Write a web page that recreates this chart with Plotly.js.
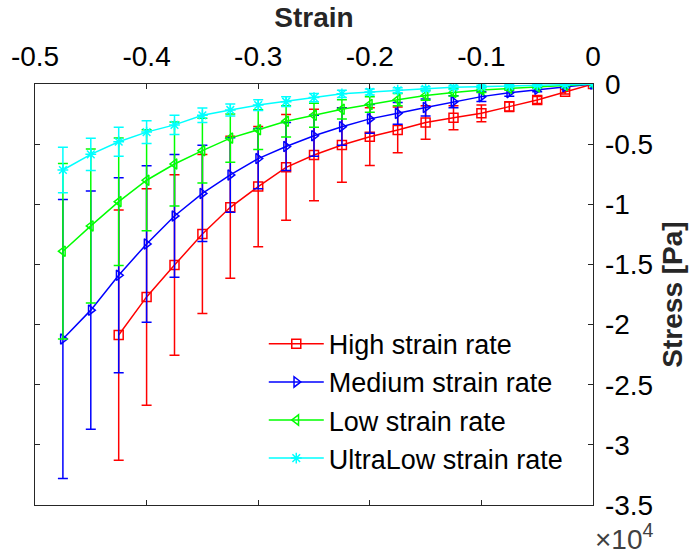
<!DOCTYPE html>
<html>
<head>
<meta charset="utf-8">
<script src="https://cdn.plot.ly/plotly-3.0.1.min.js"></script>
<style>html,body{margin:0;padding:0;background:#fff}#chart{width:693px;height:555px}</style>
</head>
<body>
<div id="chart"></div>
<script>
// Strain values (shared x positions)
const strain = [0, -0.025, -0.05, -0.075, -0.1, -0.125, -0.15, -0.175, -0.2, -0.225,
                -0.25, -0.275, -0.3, -0.325, -0.35, -0.375, -0.4, -0.425, -0.45, -0.475];

// Stress values, in units of 1e4 Pa
const highStress = [0, -0.064, -0.133, -0.188, -0.244, -0.28, -0.32, -0.382, -0.438, -0.507,
                    -0.59, -0.693, -0.853, -1.025, -1.247, -1.505, -1.77, -2.087];
const highErr    = [0, 0.02, 0.03, 0.04, 0.07, 0.1, 0.14, 0.19, 0.24, 0.31,
                    0.38, 0.44, 0.5, 0.59, 0.66, 0.75, 0.9, 1.04];

const mediumStress = [0, -0.022, -0.044, -0.072, -0.105, -0.147, -0.195, -0.244, -0.29, -0.355,
                      -0.43, -0.52, -0.62, -0.756, -0.91, -1.097, -1.33, -1.59, -1.88, -2.12];
const mediumErr    = [0, 0.01, 0.02, 0.03, 0.04, 0.05, 0.07, 0.09, 0.12, 0.155,
                      0.17, 0.2, 0.25, 0.31, 0.4, 0.51, 0.65, 0.81, 0.99, 1.16];

const lowStress = [0, -0.012, -0.025, -0.036, -0.05, -0.07, -0.095, -0.13, -0.17, -0.21,
                   -0.26, -0.31, -0.38, -0.45, -0.554, -0.665, -0.8, -0.978, -1.18, -1.39];
const lowErr    = [0, 0.005, 0.01, 0.015, 0.02, 0.03, 0.04, 0.05, 0.065, 0.08,
                   0.1, 0.13, 0.165, 0.2, 0.27, 0.35, 0.42, 0.53, 0.64, 0.73];

const ultraStress = [0, -0.005, -0.01, -0.015, -0.022, -0.028, -0.04, -0.052, -0.066, -0.082,
                     -0.113, -0.147, -0.175, -0.216, -0.26, -0.34, -0.4, -0.48, -0.585, -0.715];
const ultraErr    = [0, 0.005, 0.008, 0.01, 0.012, 0.015, 0.018, 0.02, 0.025, 0.03,
                     0.035, 0.04, 0.045, 0.05, 0.06, 0.08, 0.095, 0.12, 0.135, 0.19];

const seriesNames = ["High strain rate", "Medium strain rate", "Low strain rate", "UltraLow strain rate"];
const xTickVals = [-0.5, -0.4, -0.3, -0.2, -0.1, 0];
const xTickText = ["-0.5", "-0.4", "-0.3", "-0.2", "-0.1", "0"];
const yTickVals = [0, -0.5, -1, -1.5, -2, -2.5, -3, -3.5];
const yTickText = ["0", "-0.5", "-1", "-1.5", "-2", "-2.5", "-3", "-3.5"];

function mk(name, y, err, color, symbol) {
  return {
    type: "scatter", mode: "lines+markers", name: name,
    x: strain.slice(0, y.length), y: y,
    line: {color: color, width: 1.5},
    marker: {symbol: symbol, size: 9, color: color, line: {color: color, width: 1.5}},
    error_y: {type: "data", array: err, visible: true, color: color, thickness: 1.5, width: 5}
  };
}

const data = [
  mk(seriesNames[0], highStress, highErr, "#ff0000", "square-open"),
  mk(seriesNames[1], mediumStress, mediumErr, "#0000ff", "triangle-right-open"),
  mk(seriesNames[2], lowStress, lowErr, "#00ff00", "triangle-left-open"),
  mk(seriesNames[3], ultraStress, ultraErr, "#00ffff", "asterisk-open")
];

const axisColor = "#262626";
const FS = 28;
const layout = {
  width: 693, height: 555,
  margin: {l: 35, r: 100, t: 84, b: 50},
  paper_bgcolor: "#ffffff", plot_bgcolor: "#ffffff",
  font: {family: "Liberation Sans, Arial, sans-serif", size: FS, color: axisColor},
  showlegend: true,
  legend: {
    x: 0.41, y: 0.44, xanchor: "left", yanchor: "top",
    bgcolor: "rgba(255,255,255,0)", borderwidth: 0, itemwidth: 55,
    font: {size: 27, color: "#000000"}, tracegroupgap: 0
  },
  xaxis: {
    side: "top", range: [-0.5, 0], autorange: false,
    tickvals: xTickVals, ticktext: xTickText,
    ticks: "inside", ticklen: 5, tickcolor: axisColor,
    showline: true, linecolor: axisColor, linewidth: 1.3, mirror: "ticks",
    showgrid: false, zeroline: false, ticklabelstandoff: 6,
    tickfont: {size: FS, color: "#000000"},
    title: {text: "<b>Strain</b>", font: {size: FS, color: axisColor}, standoff: 4}
  },
  yaxis: {
    side: "right", range: [-3.5, 0], autorange: false,
    tickvals: yTickVals, ticktext: yTickText,
    ticks: "inside", ticklen: 5, tickcolor: axisColor,
    showline: true, linecolor: axisColor, linewidth: 1.3, mirror: "ticks",
    showgrid: false, zeroline: false, ticklabelstandoff: 5,
    tickfont: {size: FS, color: "#000000"},
    title: {text: "<b>Stress [Pa]</b>", font: {size: FS, color: axisColor}, standoff: 10}
  },
  annotations: [{
    xref: "paper", yref: "paper", x: 1, y: 0, xanchor: "left", yanchor: "top",
    xshift: 0, yshift: -12, showarrow: false,
    text: "×10<sup>4</sup>", font: {size: FS, color: "#404040"}
  }]
};

Plotly.newPlot("chart", data, layout, {displayModeBar: false, staticPlot: true});
</script>
</body>
</html>
